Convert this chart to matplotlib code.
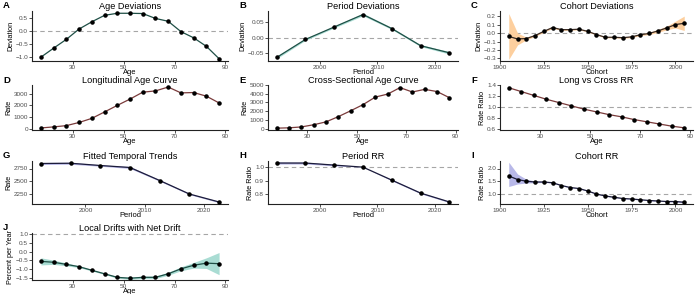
import matplotlib
matplotlib.use("Agg")
from matplotlib import pyplot as plt
import numpy as np

# data
ages = [17.5, 22.5, 27.5, 32.5, 37.5, 42.5, 47.5, 52.5, 57.5, 62.5, 67.5, 72.5, 77.5, 82.5, 87.5]
periods = [1992.5, 1997.5, 2002.5, 2007.5, 2012.5, 2017.5, 2022.5]
cohorts = list(range(1905, 2006, 5))

age_dev = [-1.02, -0.67, -0.33, 0.07, 0.35, 0.60, 0.68, 0.68, 0.67, 0.48, 0.37, -0.03, -0.27, -0.60, -1.08]
period_dev = [-0.063, -0.005, 0.035, 0.075, 0.030, -0.025, -0.048]
period_dev_lo = [-0.067, -0.008, 0.032, 0.071, 0.027, -0.028, -0.052]
period_dev_hi = [-0.059, -0.002, 0.038, 0.079, 0.033, -0.022, -0.044]
cohort_dev = [-0.04, -0.07, -0.065, -0.03, 0.02, 0.065, 0.04, 0.04, 0.045, 0.02, -0.018,
              -0.05, -0.05, -0.055, -0.045, -0.02, -0.005, 0.025, 0.06, 0.10, 0.115]
cohort_dev_lo = [-0.31, -0.14, -0.08, -0.04, 0.01, 0.055, 0.032, 0.033, 0.038, 0.013, -0.025,
                 -0.057, -0.057, -0.063, -0.054, -0.03, -0.018, 0.008, 0.038, 0.06, 0.03]
cohort_dev_hi = [0.23, 0.00, -0.05, -0.02, 0.03, 0.075, 0.048, 0.047, 0.052, 0.027, -0.011,
                 -0.043, -0.043, -0.047, -0.036, -0.01, 0.008, 0.042, 0.082, 0.14, 0.20]

long_age = [60, 150, 260, 530, 880, 1430, 1990, 2530, 3120, 3230, 3560, 3060, 3090, 2780, 2200]
cross_age = [60, 100, 200, 450, 780, 1380, 2050, 2750, 3620, 3960, 4700, 4200, 4500, 4250, 3550]
long_cross_rr = [1.35, 1.28, 1.21, 1.14, 1.08, 1.02, 0.96, 0.91, 0.86, 0.82, 0.77, 0.73, 0.69, 0.65, 0.62]

fitted_trend = [2850, 2855, 2810, 2770, 2510, 2240, 2080]
fitted_lo = [2830, 2835, 2795, 2750, 2495, 2228, 2065]
fitted_hi = [2870, 2875, 2825, 2790, 2525, 2252, 2095]
period_rr = [1.03, 1.03, 1.015, 1.0, 0.905, 0.81, 0.745]
period_rr_lo = [1.022, 1.023, 1.009, 1.0, 0.9, 0.805, 0.74]
period_rr_hi = [1.038, 1.037, 1.021, 1.0, 0.91, 0.815, 0.75]
cohort_rr = [1.70, 1.56, 1.49, 1.46, 1.46, 1.43, 1.32, 1.24, 1.20, 1.10, 0.98,
             0.90, 0.85, 0.80, 0.78, 0.75, 0.72, 0.70, 0.68, 0.68, 0.65]
cohort_rr_lo = [1.28, 1.38, 1.42, 1.43, 1.44, 1.42, 1.31, 1.23, 1.19, 1.09, 0.97,
                0.89, 0.84, 0.79, 0.77, 0.74, 0.71, 0.69, 0.67, 0.66, 0.62]
cohort_rr_hi = [2.25, 1.78, 1.57, 1.50, 1.48, 1.45, 1.33, 1.25, 1.21, 1.11, 0.99,
                0.91, 0.86, 0.81, 0.79, 0.76, 0.73, 0.71, 0.69, 0.70, 0.68]
local_drift = [-0.55, -0.60, -0.72, -0.85, -1.05, -1.25, -1.45, -1.50, -1.45, -1.45, -1.25, -0.97, -0.77, -0.65, -0.68]
local_drift_lo = [-0.75, -0.72, -0.80, -0.90, -1.09, -1.29, -1.50, -1.56, -1.52, -1.52, -1.33, -1.08, -0.93, -0.95, -1.30]
local_drift_hi = [-0.35, -0.48, -0.64, -0.80, -1.01, -1.21, -1.40, -1.44, -1.38, -1.38, -1.17, -0.86, -0.61, -0.35, -0.05]

W, H = 700, 294
fig = plt.figure(figsize=(W / 100, H / 100), dpi=100)
plt.rcParams['font.family'] = ['Liberation Sans', 'DejaVu Sans']

cols = [(32, 228), (268, 458), (500, 693)]
rows = [(11, 61), (85, 130), (161, 204), (233, 280)]

teal_line = '#1f4f46'
teal_fill = '#a9dcd3'
orange_fill = '#fdcf9e'
brown_line = '#3a2a22'
red_line = '#7a3b3b'
navy_line = '#1c1c3a'
purple_fill = '#b8b8e8'


def make_ax(r, c, letter, title):
    x0, x1 = cols[c]
    y0, y1 = rows[r]
    ax = fig.add_axes([x0 / W, 1 - y1 / H, (x1 - x0) / W, (y1 - y0) / H])
    for s in ['top', 'right']:
        ax.spines[s].set_visible(False)
    for s in ['left', 'bottom']:
        ax.spines[s].set_linewidth(0.8)
        ax.spines[s].set_color('#222222')
    ax.tick_params(labelsize=4.6, length=2, width=0.6, pad=0.8, colors='#333333', labelcolor='#4d4d4d')
    ax.set_title(title, fontsize=6.6, pad=1.5)
    fig.text((x0 - 29) / W, 1 - (y0 - 5) / H, letter, fontsize=6.8, fontweight='bold', va='center')
    return ax


def finish(ax, xlabel, ylabel):
    ax.set_xlabel(xlabel, fontsize=5.4, labelpad=-0.5)
    ax.set_ylabel(ylabel, fontsize=5.2, labelpad=1, fontstretch='condensed')


def dashed(ax, y):
    ax.axhline(y, color='#a6a6a6', ls=(0, (4, 3)), lw=0.8, zorder=0)


def line_pts(ax, x, y, color, lw=0.9):
    ax.plot(x, y, color=color, lw=lw, zorder=3)
    ax.scatter(x, y, s=5, color='black', zorder=4)


age_ticks = [30, 50, 70, 90]
age_lim = (14, 91)
per_ticks = [2000, 2010, 2020]
per_lim = (1991, 2024)
coh_ticks = [1900, 1925, 1950, 1975, 2000]
coh_lim = (1900, 2010)

# A
ax = make_ax(0, 0, 'A', 'Age Deviations')
dashed(ax, 0)
line_pts(ax, ages, age_dev, teal_line)
ax.set_xticks(age_ticks); ax.set_xlim(age_lim)
ax.set_yticks([-1.0, -0.5, 0.0, 0.5])
finish(ax, 'Age', 'Deviation')

# B
ax = make_ax(0, 1, 'B', 'Period Deviations')
dashed(ax, 0)
ax.fill_between(periods, period_dev_lo, period_dev_hi, color=teal_fill, lw=0, zorder=2)
line_pts(ax, periods, period_dev, teal_line)
ax.set_xticks(per_ticks); ax.set_xlim(per_lim)
ax.set_yticks([-0.05, 0.0, 0.05])
ax.set_yticklabels(['\u22120.05', '0.00', '0.05'])
finish(ax, 'Period', 'Deviation')

# C
ax = make_ax(0, 2, 'C', 'Cohort Deviations')
dashed(ax, 0)
ax.fill_between(cohorts, cohort_dev_lo, cohort_dev_hi, color=orange_fill, lw=0, zorder=2)
line_pts(ax, cohorts, cohort_dev, brown_line)
ax.set_xticks(coh_ticks); ax.set_xlim(coh_lim)
ax.set_yticks([-0.3, -0.2, -0.1, 0.0, 0.1, 0.2])
ax.set_ylim(-0.33, 0.26)
finish(ax, 'Cohort', 'Deviation')

# D
ax = make_ax(1, 0, 'D', 'Longitudinal Age Curve')
line_pts(ax, ages, long_age, red_line)
ax.set_xticks(age_ticks); ax.set_xlim(age_lim)
ax.set_yticks([0, 1000, 2000, 3000])
finish(ax, 'Age', 'Rate')

# E
ax = make_ax(1, 1, 'E', 'Cross-Sectional Age Curve')
line_pts(ax, ages, cross_age, red_line)
ax.set_xticks(age_ticks); ax.set_xlim(age_lim)
ax.set_yticks([0, 1000, 2000, 3000, 4000, 5000])
ax.set_ylim(-150, 5000)
finish(ax, 'Age', 'Rate')

# F
ax = make_ax(1, 2, 'F', 'Long vs Cross RR')
dashed(ax, 1.0)
line_pts(ax, ages, long_cross_rr, red_line)
ax.set_xticks(age_ticks); ax.set_xlim(age_lim)
ax.set_yticks([0.6, 0.8, 1.0, 1.2, 1.4])
ax.set_ylim(0.58, 1.4)
finish(ax, 'Age', 'Rate Ratio')

# G
ax = make_ax(2, 0, 'G', 'Fitted Temporal Trends')
ax.fill_between(periods, fitted_lo, fitted_hi, color=purple_fill, lw=0, zorder=2)
line_pts(ax, periods, fitted_trend, navy_line)
ax.set_xticks(per_ticks); ax.set_xlim(per_lim)
ax.set_yticks([2250, 2500, 2750])
ax.set_ylim(2040, 2900)
finish(ax, 'Period', 'Rate')

# H
ax = make_ax(2, 1, 'H', 'Period RR')
dashed(ax, 1.0)
ax.fill_between(periods, period_rr_lo, period_rr_hi, color=purple_fill, lw=0, zorder=2)
line_pts(ax, periods, period_rr, navy_line)
ax.set_xticks(per_ticks); ax.set_xlim(per_lim)
ax.set_yticks([0.8, 0.9, 1.0])
ax.set_ylim(0.73, 1.045)
finish(ax, 'Period', 'Rate Ratio')

# I
ax = make_ax(2, 2, 'I', 'Cohort RR')
dashed(ax, 1.0)
ax.fill_between(cohorts, cohort_rr_lo, cohort_rr_hi, color=purple_fill, lw=0, zorder=2)
line_pts(ax, cohorts, cohort_rr, navy_line)
ax.set_xticks(coh_ticks); ax.set_xlim(coh_lim)
ax.set_yticks([1.0, 1.5, 2.0])
ax.set_ylim(0.58, 2.3)
finish(ax, 'Cohort', 'Rate Ratio')

# J
ax = make_ax(3, 0, 'J', 'Local Drifts with Net Drift')
dashed(ax, 1.0)
ax.fill_between(ages, local_drift_lo, local_drift_hi, color=teal_fill, lw=0, zorder=2)
line_pts(ax, ages, local_drift, teal_line)
ax.set_xticks(age_ticks); ax.set_xlim(age_lim)
ax.set_yticks([-1.5, -1.0, -0.5, 0.0, 0.5, 1.0])
ax.set_ylim(-1.6, 1.05)
finish(ax, 'Age', 'Percent per Year')

fig.savefig('out.png', dpi=100)
